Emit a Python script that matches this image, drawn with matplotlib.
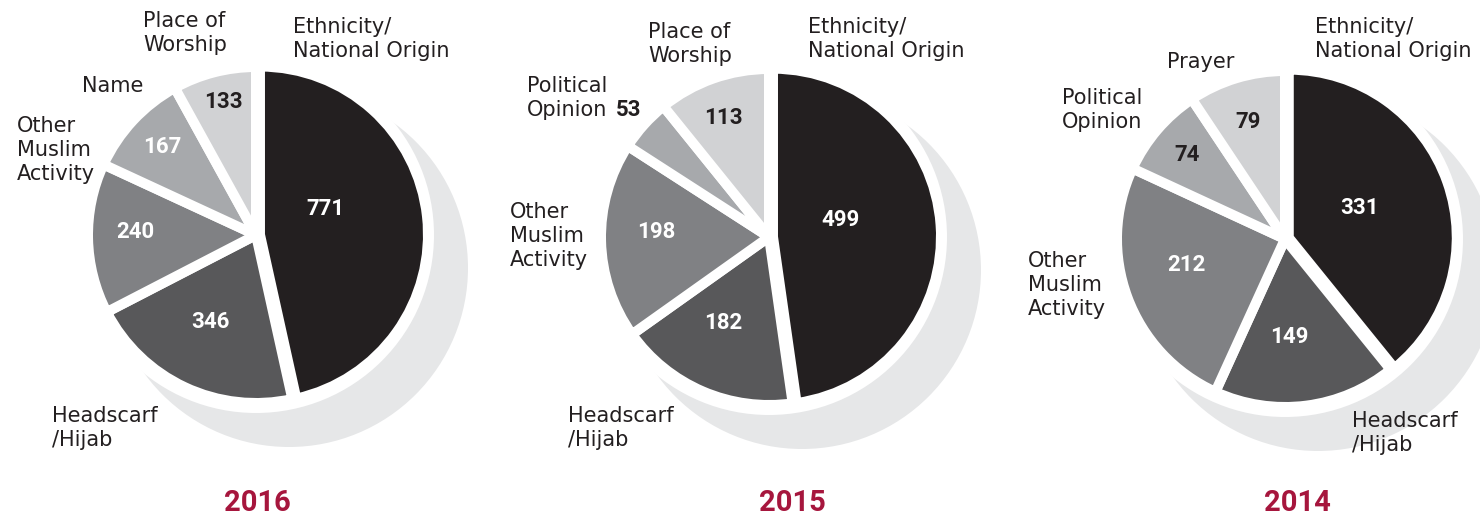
import matplotlib.pyplot as plt
from matplotlib.patches import Circle

# data
years = ['2016', '2015', '2014']

cats_2016 = ['Ethnicity/\nNational Origin', 'Headscarf\n/Hijab', 'Other\nMuslim\nActivity', 'Name', 'Place of\nWorship']
vals_2016 = [771, 346, 240, 167, 133]

cats_2015 = ['Ethnicity/\nNational Origin', 'Headscarf\n/Hijab', 'Other\nMuslim\nActivity', 'Political\nOpinion', 'Place of\nWorship']
vals_2015 = [499, 182, 198, 53, 113]

cats_2014 = ['Ethnicity/\nNational Origin', 'Headscarf\n/Hijab', 'Other\nMuslim\nActivity', 'Political\nOpinion', 'Prayer']
vals_2014 = [331, 149, 212, 74, 79]

# styles
slice_colors = ['#231f20', '#58585a', '#808184', '#a7a9ac', '#d1d2d4']
shadow_color = '#e6e7e8'
text_color = '#231f20'
year_color = '#a6163d'

W, H = 1480, 520

# layout in pixels (top-left origin)
centers = [(256, 235), (769, 237), (1285, 239)]
year_pos = [(257, 503), (792, 503), (1297, 503)]
cat_pos = [
    [(293, 17), (52, 406), (17, 116), (82, 76), (143, 11)],
    [(808, 17), (568, 406), (510, 202), (527, 76), (648, 22)],
    [(1315, 17), (1352, 411), (1028, 251), (1062, 88), (1167, 52)],
]
val_pos = [
    [(325, 209), (210, 322), (135, 232), (162, 147), (223, 102)],
    [(840, 220), (723, 323), (656, 232), (629, 110), (723, 118)],
    [(1360, 208), (1289, 337), (1186, 265), (1187, 155), (1248, 122)],
]
val_colors = [
    ['white', 'white', 'white', 'white', text_color],
    ['white', 'white', 'white', text_color, text_color],
    ['white', 'white', 'white', text_color, text_color],
]

R = 168          # pie radius (white edge eats ~5px)
R_back = 178     # white disc behind pie
R_shadow = 179
shadow_off = (33, 33)

all_cats = [cats_2016, cats_2015, cats_2014]
all_vals = [vals_2016, vals_2015, vals_2014]

fig = plt.figure(figsize=(14.8, 5.2), dpi=100)
ax = fig.add_axes([0, 0, 1, 1])

for i in range(3):
    cx, cy = centers[i]
    ax.add_patch(Circle((cx + shadow_off[0], H - cy - shadow_off[1]), R_shadow,
                        color=shadow_color, zorder=0, lw=0))
    ax.add_patch(Circle((cx, H - cy), R_back, color='white', zorder=0.5, lw=0))
    ax.pie(all_vals[i], colors=slice_colors, radius=R, center=(cx, H - cy),
           startangle=90, counterclock=False, explode=[4, 0, 0, 0, 0],
           wedgeprops=dict(edgecolor='white', linewidth=7.2, joinstyle='bevel'))

    for lab, (x, y) in zip(all_cats[i], cat_pos[i]):
        ax.text(x, H - y, lab, ha='left', va='top', fontsize=15,
                family='DejaVu Sans', color=text_color, linespacing=1.25)

    for v, (x, y), c in zip(all_vals[i], val_pos[i], val_colors[i]):
        ax.text(x, H - y, str(v), ha='center', va='center', fontsize=16,
                family='Roboto', weight='bold', color=c)

    ax.text(year_pos[i][0], H - year_pos[i][1], years[i], ha='center', va='center',
            fontsize=21, family='Roboto', weight='bold', color=year_color)

ax.set_xlim(0, W)
ax.set_ylim(0, H)
ax.set_aspect('equal')
ax.axis('off')

fig.savefig('out.png', dpi=100)
